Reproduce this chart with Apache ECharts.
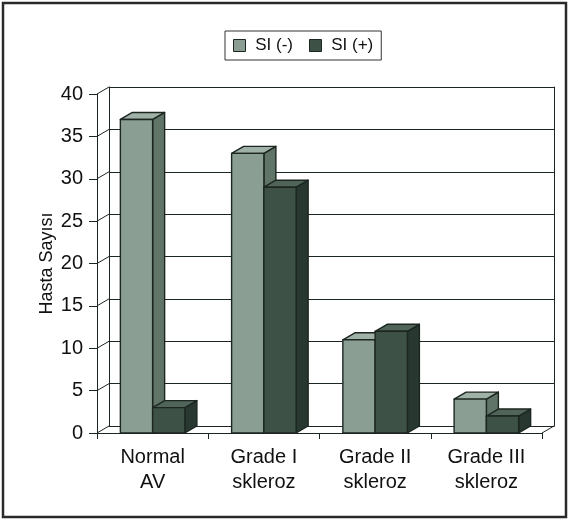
<!DOCTYPE html>
<html>
<head>
<meta charset="utf-8">
<script src="https://cdn.jsdelivr.net/npm/echarts@6/dist/echarts.min.js"></script>
<style>
  html, body { margin: 0; padding: 0; background: #fff; }
  #chart { width: 569px; height: 521px; }
</style>
</head>
<body>
<div id="chart"></div>
<script>
// Hasta sayısı by aortic valve sclerosis grade, SI (-) vs SI (+)
const categories = ['Normal\nAV', 'Grade I\nskleroz', 'Grade II\nskleroz', 'Grade III\nskleroz'];
const siNegative = [37, 33, 11, 4];
const siPositive = [3, 29, 12, 2];
const yTicks = [0, 5, 10, 15, 20, 25, 30, 35, 40];
const seriesNames = ['SI (-)', 'SI (+)'];

// 3D depth offset of the walls and bar bodies (pixels)
const DX = 12, DY = -7;
const INK = '#1c2621';

const palettes = [
  { front: '#8b9e94', top: '#a0b1a7', side: '#617468' },
  { front: '#3d5147', top: '#50645a', side: '#283730' }
];

function barRenderer(seriesIdx) {
  const pal = palettes[seriesIdx];
  return function (params, api) {
    const i = api.value(0);
    const v = api.value(1);
    const base = api.coord([i, 0]);
    const top = api.coord([i, v]);
    const catW = api.size([1, 0])[0];
    const bw = catW * 0.29;
    const x0 = base[0] - bw + seriesIdx * bw;
    const ty = top[1], by = base[1];
    const line = { stroke: INK, lineWidth: 1.4, lineJoin: 'round' };
    return {
      type: 'group',
      children: [
        {
          type: 'polygon',
          shape: { points: [[x0 + bw, ty], [x0 + bw + DX, ty + DY], [x0 + bw + DX, by + DY], [x0 + bw, by]] },
          style: Object.assign({ fill: pal.side }, line)
        },
        {
          type: 'polygon',
          shape: { points: [[x0, ty], [x0 + DX, ty + DY], [x0 + bw + DX, ty + DY], [x0 + bw, ty]] },
          style: Object.assign({ fill: pal.top }, line)
        },
        {
          type: 'rect',
          shape: { x: x0, y: ty, width: bw, height: by - ty },
          style: Object.assign({ fill: pal.front }, line)
        }
      ]
    };
  };
}

// Side wall gridlines and floor edges, joining the front axis to the back wall
function frameRenderer(params, api) {
  const v = api.value(0);
  const p = api.coord([0, v]);
  const catW = api.size([1, 0])[0];
  const xl = p[0] - catW / 2;
  const children = [{
    type: 'line',
    shape: { x1: xl, y1: p[1], x2: xl + DX, y2: p[1] + DY },
    style: { stroke: INK, lineWidth: 1 }
  }];
  if (v === 0) {
    const pr = api.coord([categories.length - 1, 0]);
    const xr = pr[0] + catW / 2;
    children.push({
      type: 'line',
      shape: { x1: xr, y1: pr[1], x2: xr + DX, y2: pr[1] + DY },
      style: { stroke: INK, lineWidth: 1 }
    });
  }
  return { type: 'group', children: children };
}

const chart = echarts.init(document.getElementById('chart'), null, { renderer: 'canvas' });

const FONT = 'Liberation Sans, Arial, sans-serif';

chart.setOption({
  animation: false,
  backgroundColor: '#ffffff',
  textStyle: { fontFamily: FONT },
  graphic: [{
    type: 'rect',
    shape: { x: 3, y: 3, width: 563, height: 514 },
    style: { fill: 'none', stroke: '#2a2a2a', lineWidth: 2.5 },
    silent: true
  }],
  legend: {
    data: seriesNames.map((n, k) => ({ name: n, itemStyle: { color: palettes[k].front, borderColor: INK, borderWidth: 1 } })),
    top: 31,
    left: 225,
    icon: 'rect',
    itemWidth: 12,
    itemHeight: 12,
    itemGap: 16,
    padding: [6, 8, 6, 8],
    borderColor: '#333',
    borderWidth: 1,
    formatter: name => ' ' + name,
    textStyle: { fontSize: 17, color: '#111', fontFamily: FONT }
  },
  grid: [
    { left: 97, right: 27, top: 94, bottom: 88 },
    { left: 97 + DX, right: 27 - DX, top: 94 + DY, bottom: 88 - DY }
  ],
  xAxis: [
    {
      gridIndex: 0,
      type: 'category',
      data: categories,
      boundaryGap: true,
      axisLine: { show: true, lineStyle: { color: INK, width: 1 } },
      axisTick: { show: true, length: 6, lineStyle: { color: INK } },
      axisLabel: { fontSize: 20, lineHeight: 25, color: '#111', margin: 12, fontFamily: FONT },
      splitLine: { show: false }
    },
    {
      gridIndex: 1,
      type: 'category',
      data: categories,
      axisLine: { show: true, lineStyle: { color: INK, width: 1 } },
      axisTick: { show: false },
      axisLabel: { show: false }
    }
  ],
  yAxis: [
    {
      gridIndex: 0,
      type: 'value',
      min: yTicks[0],
      max: yTicks[yTicks.length - 1],
      interval: 5,
      name: 'Hasta Sayısı',
      nameLocation: 'middle',
      nameRotate: 90,
      nameGap: 41,
      nameMoveOverlap: false,
      nameTextStyle: { fontSize: 18, color: '#111', fontFamily: FONT },
      axisLine: { show: true, lineStyle: { color: INK, width: 1 } },
      axisTick: { show: true, length: 8, lineStyle: { color: INK } },
      axisLabel: { fontSize: 20, color: '#111', margin: 14, fontFamily: FONT },
      splitLine: { show: false }
    },
    {
      gridIndex: 1,
      type: 'value',
      min: yTicks[0],
      max: yTicks[yTicks.length - 1],
      interval: 5,
      axisLine: { show: true, lineStyle: { color: INK, width: 1 } },
      axisTick: { show: false },
      axisLabel: { show: false },
      splitLine: { show: true, lineStyle: { color: INK, width: 1 } }
    },
    {
      gridIndex: 1,
      type: 'value',
      position: 'right',
      min: yTicks[0],
      max: yTicks[yTicks.length - 1],
      interval: 5,
      axisLine: { show: true, lineStyle: { color: INK, width: 1 } },
      axisTick: { show: false },
      axisLabel: { show: false },
      splitLine: { show: false }
    }
  ],
  series: [
    {
      type: 'custom',
      name: 'frame',
      xAxisIndex: 0,
      yAxisIndex: 0,
      renderItem: frameRenderer,
      data: yTicks.map(v => [v]),
      encode: { y: 0 },
      silent: true,
      z: 1
    },
    {
      type: 'custom',
      name: seriesNames[0],
      xAxisIndex: 0,
      yAxisIndex: 0,
      renderItem: barRenderer(0),
      itemStyle: { color: palettes[0].front },
      data: siNegative.map((v, i) => [i, v]),
      encode: { x: 0, y: 1 },
      z: 3
    },
    {
      type: 'custom',
      name: seriesNames[1],
      xAxisIndex: 0,
      yAxisIndex: 0,
      renderItem: barRenderer(1),
      itemStyle: { color: palettes[1].front },
      data: siPositive.map((v, i) => [i, v]),
      encode: { x: 0, y: 1 },
      z: 4
    }
  ]
});
</script>
</body>
</html>
